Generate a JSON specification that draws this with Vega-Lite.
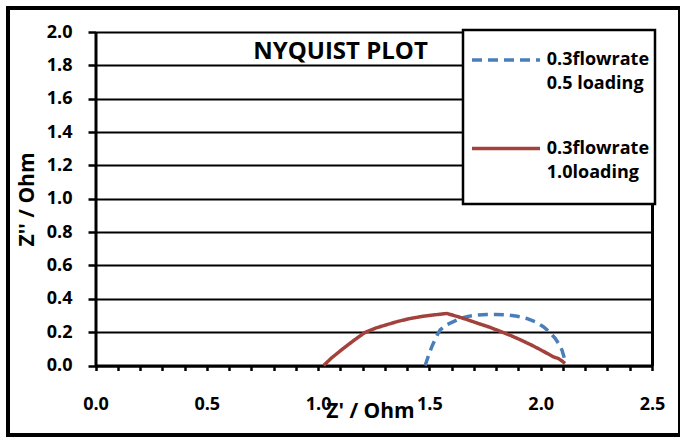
{
  "$schema": "https://vega.github.io/schema/vega-lite/v6.json",
  "width": 672,
  "height": 427,
  "autosize": {"type": "none"},
  "padding": {"left": 8, "top": 8, "right": 0, "bottom": 2},
  "background": "white",
  "title": {
    "text": "NYQUIST PLOT",
    "font": "Open Sans",
    "fontSize": 24,
    "fontWeight": "bold",
    "color": "black",
    "anchor": "middle",
    "frame": "group",
    "baseline": "alphabetic",
    "offset": -75,
    "dx": -3.5
  },
  "data": {
    "values": [
      {"series": "0.3flowrate 0.5 loading", "z_real": 1.481, "z_imag": 0.0},
      {"series": "0.3flowrate 0.5 loading", "z_real": 1.496, "z_imag": 0.06},
      {"series": "0.3flowrate 0.5 loading", "z_real": 1.511, "z_imag": 0.113},
      {"series": "0.3flowrate 0.5 loading", "z_real": 1.53, "z_imag": 0.17},
      {"series": "0.3flowrate 0.5 loading", "z_real": 1.548, "z_imag": 0.213},
      {"series": "0.3flowrate 0.5 loading", "z_real": 1.575, "z_imag": 0.243},
      {"series": "0.3flowrate 0.5 loading", "z_real": 1.608, "z_imag": 0.263},
      {"series": "0.3flowrate 0.5 loading", "z_real": 1.64, "z_imag": 0.282},
      {"series": "0.3flowrate 0.5 loading", "z_real": 1.668, "z_imag": 0.293},
      {"series": "0.3flowrate 0.5 loading", "z_real": 1.71, "z_imag": 0.302},
      {"series": "0.3flowrate 0.5 loading", "z_real": 1.758, "z_imag": 0.306},
      {"series": "0.3flowrate 0.5 loading", "z_real": 1.8, "z_imag": 0.306},
      {"series": "0.3flowrate 0.5 loading", "z_real": 1.848, "z_imag": 0.303},
      {"series": "0.3flowrate 0.5 loading", "z_real": 1.895, "z_imag": 0.295},
      {"series": "0.3flowrate 0.5 loading", "z_real": 1.937, "z_imag": 0.282},
      {"series": "0.3flowrate 0.5 loading", "z_real": 1.975, "z_imag": 0.262},
      {"series": "0.3flowrate 0.5 loading", "z_real": 2.012, "z_imag": 0.233},
      {"series": "0.3flowrate 0.5 loading", "z_real": 2.04, "z_imag": 0.2},
      {"series": "0.3flowrate 0.5 loading", "z_real": 2.065, "z_imag": 0.163},
      {"series": "0.3flowrate 0.5 loading", "z_real": 2.082, "z_imag": 0.128},
      {"series": "0.3flowrate 0.5 loading", "z_real": 2.095, "z_imag": 0.094},
      {"series": "0.3flowrate 0.5 loading", "z_real": 2.104, "z_imag": 0.055},
      {"series": "0.3flowrate 0.5 loading", "z_real": 2.109, "z_imag": 0.014},
      {"series": "0.3flowrate 1.0loading", "z_real": 1.025, "z_imag": 0.0},
      {"series": "0.3flowrate 1.0loading", "z_real": 1.06, "z_imag": 0.045},
      {"series": "0.3flowrate 1.0loading", "z_real": 1.114, "z_imag": 0.103},
      {"series": "0.3flowrate 1.0loading", "z_real": 1.16, "z_imag": 0.15},
      {"series": "0.3flowrate 1.0loading", "z_real": 1.21, "z_imag": 0.198},
      {"series": "0.3flowrate 1.0loading", "z_real": 1.26, "z_imag": 0.225},
      {"series": "0.3flowrate 1.0loading", "z_real": 1.309, "z_imag": 0.245},
      {"series": "0.3flowrate 1.0loading", "z_real": 1.36, "z_imag": 0.265},
      {"series": "0.3flowrate 1.0loading", "z_real": 1.414, "z_imag": 0.282},
      {"series": "0.3flowrate 1.0loading", "z_real": 1.47, "z_imag": 0.295},
      {"series": "0.3flowrate 1.0loading", "z_real": 1.518, "z_imag": 0.303},
      {"series": "0.3flowrate 1.0loading", "z_real": 1.578, "z_imag": 0.312},
      {"series": "0.3flowrate 1.0loading", "z_real": 1.623, "z_imag": 0.295},
      {"series": "0.3flowrate 1.0loading", "z_real": 1.67, "z_imag": 0.275},
      {"series": "0.3flowrate 1.0loading", "z_real": 1.713, "z_imag": 0.255},
      {"series": "0.3flowrate 1.0loading", "z_real": 1.77, "z_imag": 0.23},
      {"series": "0.3flowrate 1.0loading", "z_real": 1.818, "z_imag": 0.205},
      {"series": "0.3flowrate 1.0loading", "z_real": 1.865, "z_imag": 0.18},
      {"series": "0.3flowrate 1.0loading", "z_real": 1.907, "z_imag": 0.155},
      {"series": "0.3flowrate 1.0loading", "z_real": 1.955, "z_imag": 0.125},
      {"series": "0.3flowrate 1.0loading", "z_real": 1.997, "z_imag": 0.096},
      {"series": "0.3flowrate 1.0loading", "z_real": 2.03, "z_imag": 0.072},
      {"series": "0.3flowrate 1.0loading", "z_real": 2.057, "z_imag": 0.052},
      {"series": "0.3flowrate 1.0loading", "z_real": 2.079, "z_imag": 0.042},
      {"series": "0.3flowrate 1.0loading", "z_real": 2.095, "z_imag": 0.028},
      {"series": "0.3flowrate 1.0loading", "z_real": 2.109, "z_imag": 0.012}
    ]
  },
  "layer": [
    {
      "mark": {"type": "line", "strokeWidth": 3.5, "strokeCap": "butt"},
      "encoding": {
        "x": {
          "field": "z_real",
          "type": "quantitative",
          "scale": {"domain": [0, 2.5], "range": [87.5, 644], "nice": false, "zero": false},
          "axis": {
            "orient": "bottom",
            "offset": -69.5,
            "values": [0, 0.1, 0.2, 0.3, 0.4, 0.5, 0.6, 0.7, 0.8, 0.9, 1.0, 1.1, 1.2, 1.3, 1.4, 1.5, 1.6, 1.7, 1.8, 1.9, 2.0, 2.1, 2.2, 2.3, 2.4, 2.5],
            "format": ".1f",
            "labelExpr": "(round(datum.value * 10) % 5 == 0) ? datum.label : ''",
            "labelOverlap": false,
            "labelFlush": false,
            "tickSize": 5,
            "tickWidth": 2.5,
            "domainWidth": 3,
            "labelPadding": 25,
            "grid": false,
            "title": "Z' / Ohm",
            "titleX": 362,
            "titleY": 51.5,
            "titleBaseline": "alphabetic",
            "titleAlign": "center"
          }
        },
        "y": {
          "field": "z_imag",
          "type": "quantitative",
          "scale": {"domain": [0, 2], "range": [357.5, 24], "nice": false, "zero": false},
          "axis": {
            "orient": "left",
            "offset": -87.5,
            "values": [0, 0.2, 0.4, 0.6, 0.8, 1.0, 1.2, 1.4, 1.6, 1.8, 2.0],
            "format": ".1f",
            "labelOverlap": false,
            "labelFlush": false,
            "tickSize": 7.5,
            "tickWidth": 2.5,
            "domainWidth": 3,
            "labelPadding": 16,
            "grid": true,
            "gridWidth": 2,
            "title": "Z'' / Ohm",
            "titleX": -68.5,
            "titleY": 191,
            "titleAngle": -90,
            "titleBaseline": "middle",
            "titleAlign": "center"
          }
        },
        "color": {
          "field": "series",
          "type": "nominal",
          "scale": {"domain": ["0.3flowrate 0.5 loading", "0.3flowrate 1.0loading"], "range": ["#4A7EBB", "#A3423C"]},
          "legend": {
            "title": null,
            "orient": "none",
            "legendX": 455,
            "legendY": 22,
            "labelExpr": "[slice(datum.label, 0, 11), slice(datum.label, 12)]"
          }
        },
        "strokeDash": {
          "field": "series",
          "type": "nominal",
          "scale": {"domain": ["0.3flowrate 0.5 loading", "0.3flowrate 1.0loading"], "range": [[10, 6], [1, 0]]},
          "legend": {
            "title": null,
            "orient": "none",
            "legendX": 455,
            "legendY": 22,
            "labelExpr": "[slice(datum.label, 0, 11), slice(datum.label, 12)]"
          }
        }
      }
    },
    {
      "mark": {"type": "point", "opacity": 0},
      "encoding": {
        "y": {
          "field": "z_imag",
          "type": "quantitative",
          "axis": {
            "orient": "right",
            "offset": -28,
            "labels": false,
            "ticks": false,
            "grid": false,
            "title": null,
            "domainWidth": 3
          }
        }
      }
    }
  ],
  "resolve": {"axis": {"y": "independent"}},
  "config": {
    "view": {"stroke": "black", "strokeWidth": 4, "fill": "white"},
    "axis": {
      "labelFont": "Open Sans",
      "labelFontSize": 18,
      "labelFontWeight": "bold",
      "labelColor": "black",
      "titleFont": "Open Sans",
      "titleFontSize": 21,
      "titleFontWeight": "bold",
      "titleColor": "black",
      "domainColor": "black",
      "tickColor": "black",
      "gridColor": "black",
      "labelFlush": false,
      "labelOverlap": false
    },
    "legend": {
      "padding": 5,
      "strokeColor": "black",
      "strokeWidth": 2.5,
      "fillColor": "white",
      "symbolType": "M-1.462,0L1.462,0M0,1.85",
      "symbolSize": 2162,
      "symbolStrokeWidth": 3.5,
      "symbolOffset": 13,
      "labelFont": "Open Sans",
      "labelFontSize": 18,
      "labelFontWeight": "bold",
      "labelColor": "black",
      "labelBaseline": "middle",
      "labelOffset": 15.8,
      "labelLimit": 0,
      "rowPadding": 12.5
    },
    "style": {"guide-label": {"lineHeight": 24}}
  }
}
